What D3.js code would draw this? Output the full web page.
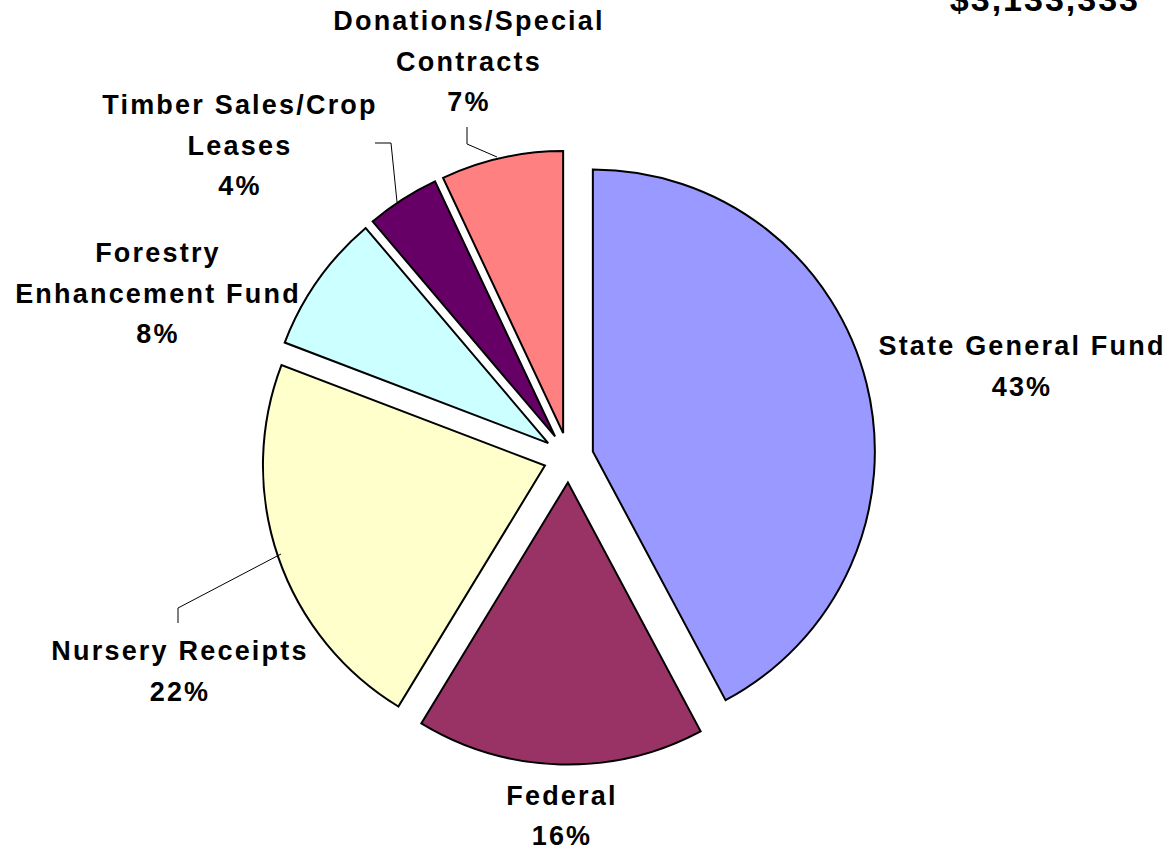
<!DOCTYPE html>
<html>
<head>
<meta charset="utf-8">
<script src="https://cdn.jsdelivr.net/npm/d3@7"></script>
<style>
  body { margin: 0; background: #fff; }
  svg text { font-family: "Liberation Sans", Arial, sans-serif; font-weight: bold; fill: #000; }
</style>
</head>
<body>
<svg id="chart" width="1173" height="852"></svg>
<script>
// funding sources, clockwise from 12 o'clock
let sources = ["State General Fund", "Federal", "Nursery Receipts", "Forestry Enhancement Fund",
    "Timber Sales/Crop Leases", "Donations/Special Contracts"]
// slice sizes (percent)
let shares = [42.2, 16.5, 22.1, 8.0, 4.2, 7.0]
// percentages as printed on the chart
let printed = ["43%", "16%", "22%", "8%", "4%", "7%"]
let colors = ['#9999FF', '#993366', '#FFFFCC', '#CCFFFF', '#660066', '#FF8080']
let labelLines = [
    ["State General Fund"], ["Federal"], ["Nursery Receipts"],
    ["Forestry", "Enhancement Fund"], ["Timber Sales/Crop", "Leases"],
    ["Donations/Special", "Contracts"]
]
let total = "$3,133,333"

// layout (kept apart from the data)
let cx = 568.6, cy = 457.5, radius = 282, explode = 25
let labelPos = [
    [1021, 355], [561, 805], [179, 660], [157, 262], [239, 114], [468, 30]
]
let lineH = 40.5
let leaders = [
    null, null,
    [[178, 623], [178, 608], [281, 554]],
    null,
    [[375, 143], [391, 143], [397, 202]],
    [[467, 127], [467, 144], [497, 157]]
]

let svg = d3.select('#chart')
let data = shares.map((v, i) => ({ name: sources[i], value: v, i }))

let pie = d3.pie().sort(null).value(d => d.value).startAngle(0).endAngle(2 * Math.PI)
let arc = d3.arc().innerRadius(0).outerRadius(radius)

let g = svg.append('g').attr('transform', `translate(${cx},${cy})`)

g.selectAll('path')
    .data(pie(data))
    .join('path')
    .attr('d', arc)
    .attr('transform', d => {
        let mid = (d.startAngle + d.endAngle) / 2
        return `translate(${explode * Math.sin(mid)},${-explode * Math.cos(mid)})`
    })
    .style('fill', d => colors[d.data.i])
    .style('stroke', '#000')
    .style('stroke-width', 2)
    .style('stroke-linejoin', 'miter')

// leader lines
leaders.forEach((pts) => {
    if (!pts) return
    svg.append('path')
        .attr('d', d3.line()(pts))
        .style('fill', 'none')
        .style('stroke', '#000')
        .style('stroke-width', 1)
})

// labels
data.forEach((d) => {
    let [x, y] = labelPos[d.i]
    let lines = labelLines[d.i].concat([printed[d.i]])
    let t = svg.append('text')
        .attr('text-anchor', 'middle')
        .style('font-size', '27px')
        .style('letter-spacing', '2.2px')
    lines.forEach((ln, k) => {
        let step = d.i == 1 ? 40 : lineH
        t.append('tspan').attr('x', x + 1).attr('y', y + k * step).text(ln)
    })
})

// total (cut off at top edge, as in the original)
svg.append('text')
    .attr('x', 1140)
    .attr('y', 11)
    .attr('text-anchor', 'end')
    .style('font-size', '34px')
    .style('letter-spacing', '2px')
    .text(total)
</script>
</body>
</html>
